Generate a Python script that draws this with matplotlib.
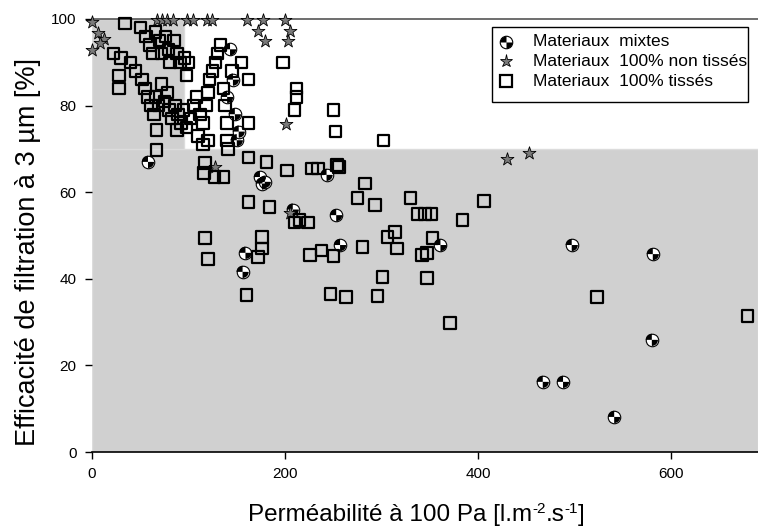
import numpy as np
import matplotlib
matplotlib.use("Agg")
from matplotlib import pyplot as plt
from matplotlib.path import Path
from matplotlib.lines import Line2D

# ---- data ----
mixtes_x = [58, 143, 146, 140, 148, 150, 152, 174, 176, 179, 208, 243, 159, 156,
            253, 257, 361, 497, 581, 580, 467, 488, 541]
mixtes_y = [67, 93, 86, 82, 78, 72, 74, 63.5, 62, 62.4, 56, 64, 46, 41.6,
            54.7, 47.8, 47.8, 47.8, 45.7, 25.9, 16.2, 16.2, 8.1]

nontisses_x = [0, 6, 12, 8, 0, 67, 73, 78, 84, 98, 105, 119, 124, 161, 177, 200,
               172, 179, 205, 203, 201, 127, 205, 430, 453]
nontisses_y = [99.3, 96.8, 95.4, 94.5, 92.8, 99.8, 99.8, 99.8, 99.8, 99.8, 99.8,
               99.8, 99.8, 99.8, 99.8, 99.8, 97.2, 94.9, 97.2, 94.9, 75.8, 65.8,
               55.2, 67.7, 69.1]

tisses_x = [34, 50, 56, 60, 63, 66, 70, 72, 76, 79, 81, 85, 88, 91, 96, 100, 98,
            22, 30, 40, 45, 28, 28,
            52, 55, 58, 61, 64, 66, 69, 72, 75, 78, 80, 83, 86, 89, 92, 95, 98,
            102, 105, 108, 112, 115, 118, 120, 122, 125, 128, 130, 133, 136, 138,
            140, 110, 115, 120,
            67, 67, 88, 117, 116, 127, 136, 140, 141,
            162, 162, 198, 212, 212, 210, 250, 252, 302, 155, 145,
            162, 181, 202, 228, 234, 254, 256, 162, 184, 275, 283, 293, 330,
            337, 345, 352, 384, 406, 210, 215, 224, 226, 238, 250, 280, 306, 314,
            316, 342, 347, 353, 301, 347, 247, 263, 296, 371, 523, 679,
            117, 120, 176, 176, 172, 160]
tisses_y = [99, 98, 96, 94, 92, 97, 95, 92, 96, 93, 90, 95, 92, 90, 91, 90, 87,
            92, 91, 90, 88, 87, 84,
            86, 84, 82, 80, 78, 82, 80, 85, 81, 83, 79, 77, 80, 78, 76, 79, 75,
            77, 80, 82, 78, 76, 80, 83, 86, 88, 90, 92, 94, 84, 80,
            76, 73, 71, 72,
            74.4, 69.7, 74.4, 66.7, 64.4, 63.5, 63.5, 72, 70,
            76, 86, 90, 84, 82, 79, 79, 74, 72, 90, 88,
            68, 67, 65, 65.5, 65.5, 66.3, 65.8, 57.7, 56.6, 58.7, 62, 57, 58.7,
            55, 55, 55, 53.6, 58, 53, 53.6, 53, 45.5, 46.5, 45.3, 47.3, 49.7, 50.8,
            47, 45.5, 46, 49.4, 40.4, 40.2, 36.5, 35.8, 36, 29.8, 35.8, 31.4,
            49.4, 44.6, 49.7, 47, 45, 36.3]

labels = ["Materiaux  mixtes", "Materiaux  100% non tissés", "Materiaux  100% tissés"]
xticks = [0, 200, 400, 600]
yticks = [0, 20, 40, 60, 80, 100]

# ---- figure ----
W, H = 758, 530
def px(x, y):
    return x / W, 1 - y / H

fig = plt.figure(figsize=(W / 100, H / 100), dpi=100)
ax = fig.add_axes([92 / W, 78 / H, (W - 92) / W, 433 / H])
ax.set_xlim(0, 690)
ax.set_ylim(0, 100)

grey = "#d0d0d0"
ax.add_patch(plt.Rectangle((0, 0), 95, 100, facecolor=grey, edgecolor="#dcdcdc", lw=1, zorder=0))
ax.add_patch(plt.Rectangle((0, 0), 690, 70, facecolor=grey, edgecolor="#dcdcdc", lw=1, zorder=0))

# custom marker for the "mixtes" series: white disc with two black quadrants
quad = Path.make_compound_path(Path.wedge(90, 180), Path.wedge(270, 360))

ms_circ = 9
ax.scatter(mixtes_x, mixtes_y, s=ms_circ ** 2, marker="o", facecolor="white",
           edgecolor="black", linewidths=0.8, zorder=3, clip_on=False)
ax.scatter(mixtes_x, mixtes_y, s=(ms_circ * 0.98) ** 2, marker=quad, facecolor="black",
           edgecolor="none", zorder=3, clip_on=False)
ax.scatter(nontisses_x, nontisses_y, s=95, marker="*", facecolor="#7a7a7a",
           edgecolor="black", linewidths=0.6, zorder=4, clip_on=False)
ax.scatter(tisses_x, tisses_y, s=68, marker="s", facecolor="none",
           edgecolor="black", linewidths=1.6, zorder=5, clip_on=False)

# axes styling
for s in ["right", "left"]:
    ax.spines[s].set_visible(False)
ax.spines["top"].set_color("#555555")
ax.spines["top"].set_linewidth(1.2)
ax.spines["bottom"].set_color("black")
ax.spines["bottom"].set_linewidth(1.2)

tick_font = dict(family=["Liberation Sans Narrow", "Liberation Sans", "DejaVu Sans"], size=11)
ax.set_xticks(xticks)
ax.set_yticks(yticks)
ax.set_xticklabels([str(t) for t in xticks], fontdict=tick_font)
ax.set_yticklabels([str(t) for t in yticks], fontdict=tick_font)
ax.tick_params(axis="both", direction="out", length=5, width=1, color="black", pad=6)

# y label
fig.text(*px(28, 252), "Efficacité de filtration à 3 µm [%]", rotation=90,
         ha="center", va="center", family="Liberation Sans", size=19.5)

# x label, built from pieces so the exponents use a plain hyphen
renderer = fig.canvas.get_renderer()
pieces = [("Perméabilité à 100 Pa [l.m", 17.5, 0), ("-2", 11, 8), (".s", 17.5, 0),
          ("-1", 11, 8), ("]", 17.5, 0)]
xpos = 248
for txt, size, rise in pieces:
    t = fig.text(*px(xpos, 521 - rise), txt, ha="left", va="baseline",
                 family="Liberation Sans", size=size)
    xpos += t.get_window_extent(renderer).width

# legend drawn by hand (text runs past the frame as in the reference)
fig.add_artist(plt.Rectangle(px(492, 102), (748 - 492) / W, (102 - 27) / H,
                             transform=fig.transFigure, facecolor="white",
                             edgecolor="black", lw=1.0, zorder=6))
rows = [42, 61, 81]
fig.add_artist(Line2D([px(506, 0)[0]], [px(0, rows[0])[1]], marker="o", ms=ms_circ,
                      mfc="white", mec="black", mew=0.8, ls="none", zorder=7))
fig.add_artist(Line2D([px(506, 0)[0]], [px(0, rows[0])[1]], marker=quad, ms=ms_circ * 0.98,
                      mfc="black", mec="none", ls="none", zorder=7))
fig.add_artist(Line2D([px(506, 0)[0]], [px(0, rows[1])[1]], marker="*", ms=9.5,
                      mfc="#7a7a7a", mec="black", mew=0.6, ls="none", zorder=7))
fig.add_artist(Line2D([px(506, 0)[0]], [px(0, rows[2])[1]], marker="s", ms=8,
                      mfc="none", mec="black", mew=1.6, ls="none", zorder=7))
for r, lab in zip(rows, labels):
    fig.text(*px(533, r), lab, ha="left", va="center", family="Liberation Sans",
             size=12.5, zorder=8)

fig.savefig("out.png", dpi=100)
